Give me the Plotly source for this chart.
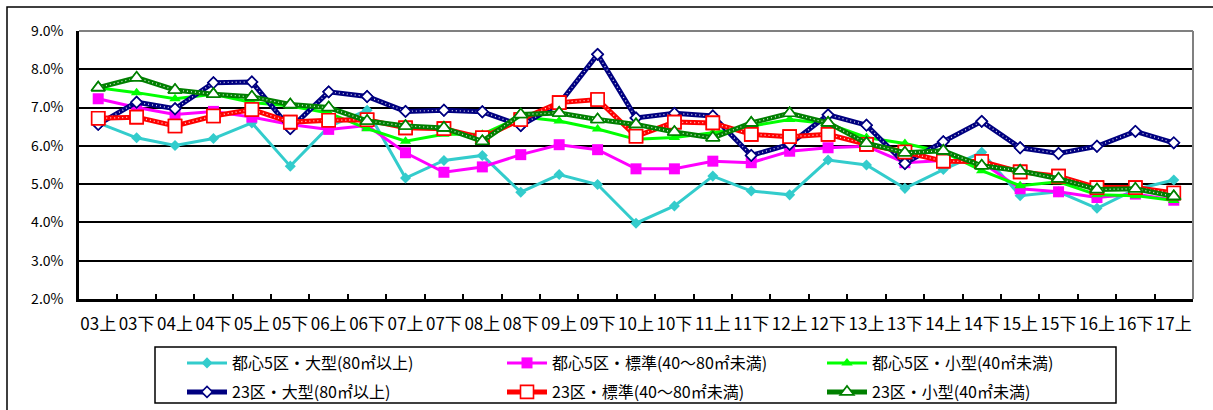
import plotly.graph_objects as go

categories = ["03上","03下","04上","04下","05上","05下","06上","06下","07上","07下",
              "08上","08下","09上","09下","10上","10下","11上","11下","12上","12下",
              "13上","13下","14上","14下","15上","15下","16上","16下","17上"]

toshin_large = [6.60,6.21,6.01,6.19,6.60,5.47,6.50,6.93,5.16,5.62,
                5.75,4.79,5.25,4.99,3.98,4.43,5.21,4.82,4.72,5.63,
                5.50,4.89,5.38,5.83,4.70,4.80,4.37,4.86,5.11]
toshin_std = [7.23,7.00,6.82,6.90,6.75,6.56,6.43,6.53,5.82,5.31,
              5.45,5.77,6.03,5.90,5.40,5.40,5.60,5.56,5.86,5.95,
              5.99,5.56,5.62,5.57,4.88,4.80,4.65,4.74,4.58]
toshin_small = [7.52,7.39,7.23,7.35,7.13,7.04,6.86,6.45,6.12,6.30,
                6.30,6.76,6.65,6.44,6.17,6.22,6.34,6.52,6.69,6.58,
                6.22,6.06,5.84,5.35,4.96,5.06,4.72,4.70,4.57]
ku23_large = [6.56,7.14,6.97,7.65,7.67,6.45,7.41,7.29,6.90,6.93,
              6.89,6.53,7.10,8.39,6.73,6.85,6.78,5.75,6.04,6.81,
              6.54,5.54,6.11,6.64,5.95,5.80,5.99,6.38,6.08]
ku23_std = [6.72,6.75,6.52,6.78,6.95,6.62,6.67,6.68,6.47,6.45,
            6.21,6.69,7.13,7.21,6.25,6.62,6.60,6.30,6.24,6.30,
            6.04,5.84,5.60,5.59,5.32,5.21,4.91,4.91,4.77]
ku23_small = [7.52,7.78,7.46,7.35,7.28,7.08,7.00,6.65,6.52,6.47,
              6.12,6.82,6.86,6.69,6.56,6.36,6.21,6.60,6.85,6.60,
              6.07,5.82,5.87,5.48,5.35,5.14,4.86,4.88,4.68]

y_ticks = [2, 3, 4, 5, 6, 7, 8, 9]

FONT = "Noto Sans CJK JP"

fig = go.Figure()

simple = [
    ("都心5区・大型(80㎡以上)", toshin_large, "#33CCCC", "diamond", 8.5),
    ("都心5区・標準(40～80㎡未満)", toshin_std, "#FF00FF", "square", 11),
    ("都心5区・小型(40㎡未満)", toshin_small, "#00FF00", "triangle-up", 10),
]
for name, vals, col, sym, sz in simple:
    fig.add_trace(go.Scatter(
        x=categories, y=vals, name=name, mode="lines+markers", legend="legend",
        line=dict(color=col, width=3),
        marker=dict(symbol=sym, size=sz, color=col, line=dict(width=0)),
    ))

dotted = [
    ("23区・大型(80㎡以上)", ku23_large, "#000080", "diamond", 8.5),
    ("23区・標準(40～80㎡未満)", ku23_std, "#FF0000", "square", 13),
    ("23区・小型(40㎡未満)", ku23_small, "#008000", "triangle-up", 12),
]
for name, vals, col, sym, sz in dotted:
    fig.add_trace(go.Scatter(
        x=categories, y=vals, name=name, mode="lines+markers", legendgroup=name,
        legend="legend2",
        line=dict(color=col, width=5),
        marker=dict(symbol=sym, size=sz, color="white", line=dict(color=col, width=1.6)),
    ))
    fig.add_trace(go.Scatter(
        x=categories, y=vals, mode="lines", showlegend=False, legendgroup=name,
        legend="legend2", hoverinfo="skip",
        line=dict(color="rgba(255,255,255,0.85)", width=1.3, dash="1px,3px"),
    ))
    fig.add_trace(go.Scatter(
        x=categories, y=vals, mode="markers", showlegend=False, legendgroup=name,
        legend="legend2", hoverinfo="skip",
        marker=dict(symbol=sym, size=sz, color="white", line=dict(color=col, width=1.6)),
    ))

W, H = 1213, 410
L, R, T, B = 79, 1193, 31, 299
pw, ph = R - L, B - T

def px2x(px):
    return (px - L) / pw

def px2y(py):
    return (B - py) / ph

shapes = [
    dict(type="line", xref="paper", yref="paper", x0=0, x1=1, y0=1, y1=1,
         line=dict(color="#808080", width=2), layer="above"),
    dict(type="line", xref="paper", yref="paper", x0=1, x1=1, y0=0, y1=1,
         line=dict(color="#808080", width=2), layer="above"),
    dict(type="rect", xref="paper", yref="paper",
         x0=px2x(7), x1=px2x(1216), y0=px2y(416), y1=px2y(7),
         line=dict(color="#000000", width=1.5), layer="below"),
    dict(type="rect", xref="paper", yref="paper",
         x0=px2x(155), x1=px2x(1116), y0=px2y(403), y1=px2y(347),
         line=dict(color="#000000", width=1.5), layer="below"),
]

leg_common = dict(
    orientation="h", xref="container", yref="container",
    x=182 / W, xanchor="left", yanchor="top",
    entrywidth=265, entrywidthmode="pixels",
    font=dict(family=FONT, size=16, color="black"),
    bgcolor="rgba(0,0,0,0)", borderwidth=0, itemwidth=40,
    traceorder="normal",
)

fig.update_layout(
    width=W, height=H,
    margin=dict(l=L, r=W - R, t=T, b=H - B, autoexpand=False),
    paper_bgcolor="white", plot_bgcolor="white",
    font=dict(family=FONT, color="black", size=14),
    showlegend=True,
    legend=dict(leg_common, y=1 - 346 / H),
    legend2=dict(leg_common, y=1 - 375 / H),
    shapes=shapes,
)

fig.update_xaxes(
    type="category", range=[-0.5, len(categories) - 0.5],
    tickmode="array", tickvals=categories, ticktext=categories, tickangle=0,
    showline=True, linecolor="black", linewidth=2.5,
    ticks="inside", tickson="boundaries", ticklen=5, tickwidth=1.5, tickcolor="black",
    showgrid=False, tickfont=dict(family=FONT, size=17, color="black"),
    ticklabelstandoff=8, zeroline=False, automargin=False,
)
fig.update_yaxes(
    range=[2, 9], tickmode="array", tickvals=y_ticks,
    ticktext=[f"{v:.1f}%" for v in y_ticks],
    showline=True, linecolor="black", linewidth=2.5,
    showgrid=True, gridcolor="black", gridwidth=1.5,
    ticks="", tickfont=dict(family=FONT, size=14, color="black"),
    ticklabelstandoff=10, zeroline=False, automargin=False,
)

fig.write_html("out.html", config={"displayModeBar": False},
               post_script="document.body.style.margin='0';")
